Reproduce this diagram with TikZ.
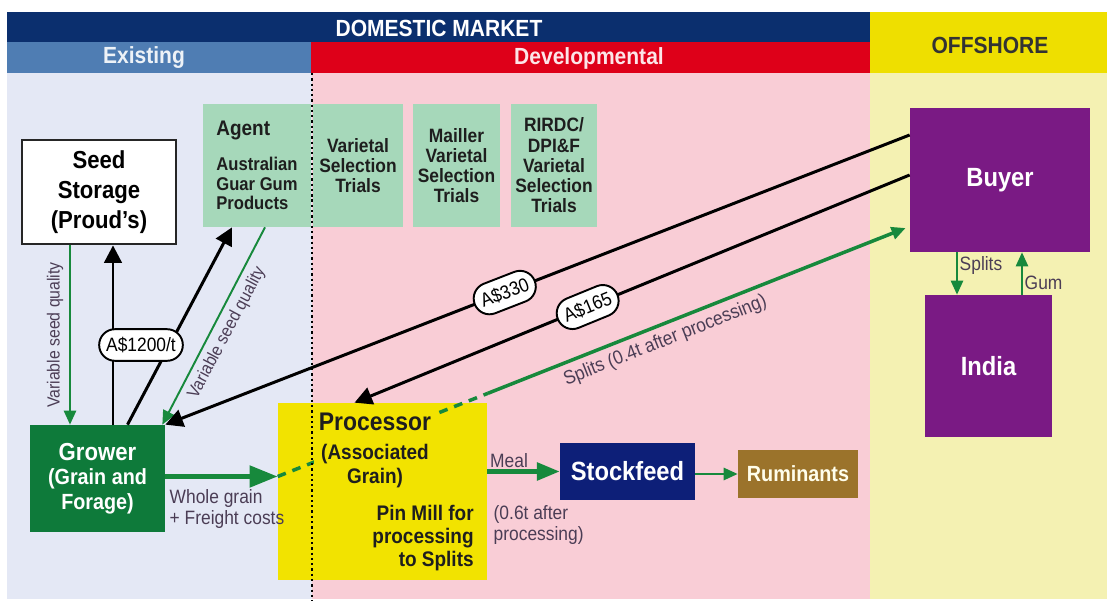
\documentclass[tikz,border=0pt]{standalone}
\usepackage{fontspec}
\setmainfont{Liberation Sans}[FakeStretch=0.9]
\usetikzlibrary{arrows.meta,calc,positioning}

\definecolor{hdnavy}{HTML}{0B2F6E}
\definecolor{hdexist}{HTML}{4F7DB3}
\definecolor{hddevel}{HTML}{DE0019}
\definecolor{hdoff}{HTML}{EEDF00}
\definecolor{bgexist}{HTML}{E4E8F5}
\definecolor{bgdevel}{HTML}{F9CDD6}
\definecolor{bgoff}{HTML}{F4F1B2}
\definecolor{trialgrn}{HTML}{A6D8BA}
\definecolor{growgrn}{HTML}{0E7A3A}
\definecolor{procyel}{HTML}{F2E300}
\definecolor{stocknavy}{HTML}{0D1F78}
\definecolor{rumbrown}{HTML}{9B732B}
\definecolor{buypurple}{HTML}{7A1A84}
\definecolor{arrgrn}{HTML}{17893C}
\definecolor{lbltxt}{HTML}{4B3D55}
\definecolor{boxtxt}{HTML}{1E1E1E}

\newcommand{\fs}[2]{\fontsize{#1}{#2}\selectfont}

\begin{document}
\begin{tikzpicture}[x=0.02cm, y=-0.02cm,
    sz/.style 2 args={minimum width=#1*0.02cm, minimum height=#2*0.02cm, inner sep=0pt},
    trial/.style={fill=trialgrn, text=boxtxt, align=center, font=\bfseries\fs{11}{11.5}},
    dark/.style={text=white, align=center, font=\bfseries},
    blk/.style={line width=1.7pt, -{Triangle[length=10pt, width=10pt]}},
    grn/.style={arrgrn, line width=1.1pt, -{Triangle[length=8pt, width=7pt]}},
    fat/.style={line width=2.8pt, -{Triangle[length=16pt, width=12pt]}},
    price/.style={draw, line width=1.1pt, fill=white, rounded corners=9pt, inner xsep=4pt,
      minimum height=18pt, font=\fs{11}{12}},
    lbl/.style={text=lbltxt, font=\fs{11}{12}},
    head/.style={font=\bfseries\fs{13.3}{14}}
  ]
    \useasboundingbox (0,0) rectangle (1107,601);
    % zones
    \fill[hdnavy] (7,12) rectangle (870,42);
    \fill[hdexist] (7,42) rectangle (311,73);
    \fill[hddevel] (311,42) rectangle (870,73);
    \fill[hdoff] (870,12) rectangle (1107,73);
    \fill[bgexist] (7,73) rectangle (312,599);
    \fill[bgdevel] (312,73) rectangle (870,599);
    \fill[bgoff] (870,73) rectangle (1107,599);
    \path[head]
      (439,28) node[text=white] (dom) {DOMESTIC MARKET}
      (144,58) node[text=white!90!hdexist] (exi) {Existing}
      (589,58) node[text=white!90!hddevel] (dev) {Developmental}
      (990,45) node[text=black!80] (off) {OFFSHORE}
    ;
    % boxes
    \path
      (99,192) node[draw=black!85, line width=1.6pt, fill=white, sz={154}{104}, align=center,
        font=\bfseries\fs{14}{17}] (store) {Seed\\Storage\\(Proud's)}
      (257,165.5) node[trial, sz={108}{123}, align=left, font=\bfseries\fs{10.5}{11}] (agent)
        {{\fs{12}{13}Agent}\\[9pt]Australian\\Guar Gum\\Products}
      (358,165.5) node[trial, sz={90}{123}] (trial1) {Varietal\\Selection\\Trials}
      (456.5,165.5) node[trial, sz={87}{123}] (trial2) {Mailler\\Varietal\\Selection\\Trials}
      (554,165.5) node[trial, sz={86}{123}] (trial3) {RIRDC/\\DPI\&F\\Varietal\\Selection\\Trials}
      (97.5,478.5) node[fill=growgrn, dark, sz={135}{107}, font=\bfseries\fs{12.5}{14}] (grower)
        {{\fs{14}{14}Grower}\\(Grain and\\Forage)}
      (382.5,491.5) node[fill=procyel, sz={209}{177}] (proc) {}
      (627.5,471.5) node[fill=stocknavy, dark, sz={135}{57}, font=\bfseries\fs{15}{16}] (stock) {Stockfeed}
      (798,474) node[fill=rumbrown, text=white!92!yellow, sz={120}{48}, font=\bfseries\fs{12.5}{13}] (rum) {Ruminants}
      (1000,180) node[fill=buypurple, dark, sz={180}{144}, font=\bfseries\fs{15}{16}] (buyer) {Buyer}
      (988.5,366) node[fill=buypurple, dark, sz={127}{142}, font=\bfseries\fs{15}{16}] (india) {India}
    ;
    % points
    \path
      ($(store.south)+(-29,0)$) coordinate (sq1)
      ($(grower.north)+(15.5,0)$) coordinate (gs1)
      ($(grower.north)+(30,0)$) coordinate (ga1)
      ($(agent.south)+(-25,0)$) coordinate (ga2)
      ($(agent.south)+(8,0)$) coordinate (aq1)
      ($(grower.north east)+(-3,0)$) coordinate (aq2)
      ($(buyer.west)+(0,-45)$) coordinate (b1)
      ($(buyer.west)+(0,-5)$) coordinate (b2)
      ($(proc.north)+(-28,0)$) coordinate (p1)
      ($(proc.west)+(0,-15)$) coordinate (wg)
      ($(buyer.west)+(-4,48)$) coordinate (b3)
      ($(wg)!0.335!(b3)$) coordinate (sp)
      ($(buyer.south)+(-43,0)$) coordinate (bs)
      ($(buyer.south)+(22,0)$) coordinate (bg)
    ;
    % green flows
    \draw[grn] (sq1) -- (sq1 |- grower.north)
      node[midway, rotate=90, anchor=south, lbl, font=\fs{10}{11}] (q1) {Variable seed quality};
    \draw[grn] (aq1) -- (aq2)
      node[midway, rotate=62, anchor=north, lbl, font=\fs{10}{11}] (q2) {Variable seed quality};
    \draw[arrgrn, line width=2pt, dash pattern=on 5pt off 4pt] (wg) -- (sp);
    \draw[grn, line width=2pt] (sp) -- (b3)
      node[pos=0.41, sloped, below, lbl] (q3) {Splits (0.4t after processing)};
    % processor texts
    \path[text=boxtxt, font=\bfseries\fs{12}{13}, align=center, inner sep=0pt]
      (375,413) node[anchor=north, fill=procyel, inner xsep=3pt, font=\bfseries\fs{12}{13.5}] (procA)
        {{\fs{14.5}{15}Processor}\\[3pt](Associated\\Grain)}
      (474,505) node[anchor=north east, align=right] (procB) {Pin Mill for\\processing\\to Splits}
    ;
    \draw[line width=1.3pt, dash pattern=on 1.3pt off 1.7pt] (312,73) -- (312,601);
    \draw[grn, fat] (grower.east |- wg) -- (wg);
    \path ($(grower.east |- wg)+(4,13)$) node[anchor=north west, inner sep=0pt, align=left, lbl] (wgl)
      {Whole grain\\+ Freight costs};
    \draw[grn, line width=2.4pt, -{Triangle[length=13pt, width=10pt]}] (proc.east |- stock.west) -- (stock.west)
      node[pos=0.3, above, lbl, inner sep=1pt] (meal) {Meal};
    \path ($(proc.east |- stock.west)+(6,34)$) node[anchor=north west, inner sep=0pt, align=left, lbl] (mealq)
      {(0.6t after\\processing)};
    \draw[grn, line width=1.2pt] (stock.east |- rum.west) -- (rum.west);
    \draw[grn] (bs) -- (bs |- india.north) node[pos=0.3, right, lbl, inner sep=1pt] (spl) {Splits};
    \draw[grn] (bg |- india.north) -- (bg) node[pos=0.27, right, lbl, inner sep=1pt] (gum) {Gum};
    % money flows
    \draw[blk] (gs1) -- (gs1 |- store.south);
    \draw[blk] (ga1) -- (ga2);
    \draw[blk] (b1) -- (grower.north east) node[pos=0.544, sloped, price] (p330) {A\$330};
    \draw[blk] (b2) -- (p1) node[pos=0.58, sloped, price] (p165) {A\$165};
    \path (141,345) node[price] (p1200) {A\$1200/t};
  \end{tikzpicture}
\end{document}
